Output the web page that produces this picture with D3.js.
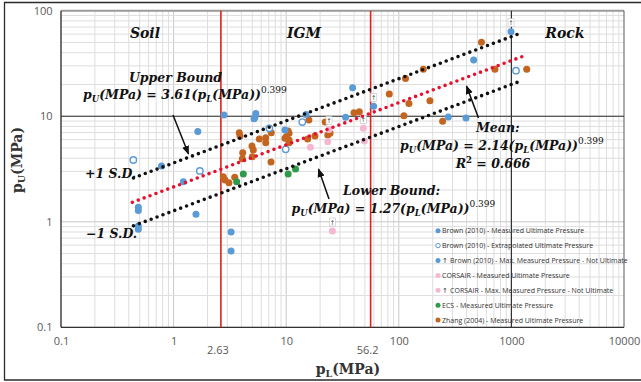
<!DOCTYPE html>
<html>
<head>
<meta charset="utf-8">
<script src="https://cdn.jsdelivr.net/npm/d3@7"></script>
<style>
  html, body { margin: 0; padding: 0; background: #fff; }
  svg { display: block; }
</style>
</head>
<body>
<svg id="chart" width="641" height="382"></svg>
<script>
// Limit pressure pL (MPa) vs ultimate pressure pU (MPa)
const brownMeasured = [
  [1.64, 7.17], [0.78, 3.38], [1.22, 2.40], [0.486, 1.37], [0.486, 1.28],
  [0.486, 0.912], [0.486, 0.848], [1.58, 1.18], [3.24, 0.80], [3.24, 0.528],
  [2.80, 10.3], [5.37, 10.6], [5.27, 9.77], [5.18, 9.48], [15.0, 10.4],
  [33.7, 9.77], [38.9, 18.6], [275, 9.84], [395, 9.62], [462, 34.1], [9.75, 7.41]
];
const brownExtrapolated = [
  [0.439, 3.85], [1.71, 3.03], [13.9, 8.81], [9.90, 4.86], [7.08, 7.68], [1099, 27.0]
];
const brownMaxMeasured = [[59.8, 12.4], [992, 63.2]];
const corsairMeasured = [[16.4, 5.08], [23.4, 5.74], [48.4, 9.21], [49.4, 5.83]];
const corsairMaxMeasured = [[48.4, 7.68], [25.7, 0.817], [24.0, 7.49]];
const ecsMeasured = [[3.63, 2.40], [4.16, 2.84], [10.4, 2.83], [12.1, 3.16]];
const zhangMeasured = [
  [2.76, 2.67], [2.86, 2.49], [3.10, 2.34], [3.49, 2.64], [3.83, 6.98], [3.89, 6.50],
  [4.11, 4.51], [4.08, 3.96], [4.97, 5.22], [5.10, 4.79], [5.00, 4.14], [5.77, 6.08],
  [6.58, 6.26], [6.58, 5.62], [7.37, 6.98], [7.33, 3.68], [10.4, 7.24], [10.6, 6.89],
  [10.0, 6.40], [10.6, 5.95], [10.6, 5.62], [9.75, 6.18], [15.5, 6.08], [15.9, 9.21],
  [18.0, 6.50], [22.2, 8.81], [23.4, 6.64], [24.5, 6.89], [40.0, 10.8], [44.6, 11.0],
  [82.3, 16.2], [114.7, 22.8], [165, 27.8], [123, 13.2], [189, 14.0], [111, 10.1],
  [245, 8.95], [542, 50.2], [714, 27.8], [1368, 27.8]
];

// Power-law fits pU = a * pL^b
const fitExponent = 0.399;
const fitMean = 2.14, fitUpper = 3.61, fitLower = 1.27;
const fitRange = [0.44, 1240];
const meanRange = [0.43, 1370];

// Boundaries between soil, IGM and rock
const boundaries = [2.63, 56.2];
const xTicks = [0.1, 1, 10, 100, 1000, 10000];
const yTicks = [0.1, 1, 10, 100];
const zoneLabels = [["Soil", 0.557], ["IGM", 14.4], ["Rock", 2990]];

const legendItems = [
  ["filled", "#5B9BD5", "", "Brown (2010) - Measured Ultimate Pressure"],
  ["open", "#5B9BD5", "", "Brown (2010) - Extrapolated Ultimate Pressure"],
  ["filled", "#5B9BD5", "\u2191 ", "Brown (2010) - Max. Measured Pressure - Not Ultimate"],
  ["filled", "#F4B8D3", "", "CORSAIR - Measured Ultimate Pressure"],
  ["filled", "#F4B8D3", "\u2191 ", "CORSAIR - Max. Measured Pressure - Not Ultimate"],
  ["filled", "#2E9A4A", "", "ECS - Measured Ultimate Pressure"],
  ["filled", "#C4651F", "", "Zhang (2004) - Measured Ultimate Pressure"]
];

const svg = d3.select("#chart");
const W = 641, H = 382;
const plot = { left: 61, right: 624, top: 10.7, bottom: 327.3 };

const x = d3.scaleLog().domain([0.1, 10000]).range([plot.left, plot.right]);
const y = d3.scaleLog().domain([0.1, 100]).range([plot.bottom, plot.top]);

svg.append("rect").attr("width", W).attr("height", H).attr("fill", "#fff");

// Outer frame
svg.append("path")
  .attr("d", `M660,2.5 H4.5 V380 H660`)
  .attr("fill", "none").attr("stroke", "#2b2b2b").attr("stroke-width", 1.3);

// Gridlines
const minorVals = (lo, hi) => {
  const out = [];
  for (let d = lo; d < hi * 0.999; d *= 10)
    for (let k = 1; k <= 9; k++) out.push({ v: k * d, major: k === 1 });
  return out;
};
const grid = svg.append("g");
minorVals(0.1, 10000).forEach(t => {
  grid.append("line")
    .attr("x1", x(t.v)).attr("x2", x(t.v))
    .attr("y1", plot.top).attr("y2", plot.bottom)
    .attr("stroke", t.major ? "#c8c8c8" : "#dedede").attr("stroke-width", 1);
});
minorVals(0.1, 100).forEach(t => {
  grid.append("line")
    .attr("x1", plot.left).attr("x2", plot.right)
    .attr("y1", y(t.v)).attr("y2", y(t.v))
    .attr("stroke", t.major ? "#c8c8c8" : "#dedede").attr("stroke-width", 1);
});

// Plot frame
svg.append("line").attr("x1", plot.left).attr("x2", plot.right)
  .attr("y1", plot.top).attr("y2", plot.top)
  .attr("stroke", "#9a9a9a").attr("stroke-width", 2);
svg.append("line").attr("x1", plot.right).attr("x2", plot.right)
  .attr("y1", plot.top).attr("y2", plot.bottom)
  .attr("stroke", "#595959").attr("stroke-width", 1);

// Reference lines at pU = 10 and pL = 1000
svg.append("line").attr("x1", plot.left).attr("x2", plot.right)
  .attr("y1", y(10)).attr("y2", y(10))
  .attr("stroke", "#333").attr("stroke-width", 1.2);
svg.append("line").attr("x1", x(1000)).attr("x2", x(1000))
  .attr("y1", plot.top).attr("y2", plot.bottom)
  .attr("stroke", "#333").attr("stroke-width", 1.2);

// Axes
const xAxis = svg.append("g").attr("transform", `translate(0,${plot.bottom})`)
  .call(d3.axisBottom(x).tickValues(xTicks).tickSize(0).tickFormat(d3.format("~g")));
const yAxis = svg.append("g").attr("transform", `translate(${plot.left},0)`)
  .call(d3.axisLeft(y).tickValues(yTicks).tickSize(0).tickFormat(d3.format("~g")));
[xAxis, yAxis].forEach(a => {
  a.select(".domain").attr("stroke", "#333").attr("stroke-width", 1.3);
  a.selectAll("text").attr("font-family", "'Open Sans', sans-serif")
    .attr("font-size", 11).attr("fill", "#595959");
});
xAxis.selectAll("text").attr("dy", "1.35em");
yAxis.selectAll("text").attr("dx", "-0.5em");
xAxis.select(".domain").attr("d", `M${plot.left},0H${plot.right}`);
yAxis.select(".domain").attr("d", `M0,${plot.bottom}V${plot.top}`);

// Boundary lines and their labels
boundaries.forEach(b => {
  svg.append("line").attr("x1", x(b)).attr("x2", x(b))
    .attr("y1", plot.top).attr("y2", plot.bottom)
    .attr("stroke", "#E0201B").attr("stroke-width", 1.6);
  svg.append("text").attr("x", x(b) - 3).attr("y", plot.bottom + 27)
    .attr("text-anchor", "middle")
    .attr("font-family", "'Open Sans', sans-serif").attr("font-size", 11)
    .attr("fill", "#595959").text(b);
});

// Data points
const pts = svg.append("g");
function drawPoints(data, color, open) {
  pts.selectAll(null).data(data).enter().append("circle")
    .attr("cx", d => x(d[0])).attr("cy", d => y(d[1]))
    .attr("r", open ? 3.2 : 3.5)
    .attr("fill", open ? "#fff" : color)
    .attr("stroke", color).attr("stroke-width", open ? 1.4 : 0);
}
function drawMaxFlags(data) {
  const g = pts.selectAll(null).data(data).enter().append("g")
    .attr("transform", d => `translate(${x(d[0])},${y(d[1]) - 9})`);
  g.append("rect").attr("x", -3).attr("y", -4).attr("width", 6).attr("height", 8)
    .attr("fill", "#fff").attr("stroke", "#c4c4c4").attr("stroke-width", 0.6);
  g.append("text").attr("text-anchor", "middle").attr("y", 2.6)
    .attr("font-family", "'DejaVu Sans', sans-serif").attr("font-size", 6.5)
    .attr("fill", "#555").text("\u2191");
}
drawPoints(zhangMeasured, "#C4651F", false);
drawPoints(brownMeasured, "#5B9BD5", false);
drawPoints(brownExtrapolated, "#5B9BD5", true);
drawPoints(ecsMeasured, "#2E9A4A", false);
drawPoints(corsairMeasured, "#F4B8D3", false);
drawPoints(brownMaxMeasured, "#5B9BD5", false);
drawPoints(corsairMaxMeasured, "#F4B8D3", false);
drawMaxFlags(brownMaxMeasured.concat(corsairMaxMeasured));

// Fitted power-law lines
function fitLine(a, range, color) {
  const line = d3.line().x(d => x(d)).y(d => y(a * Math.pow(d, fitExponent)));
  svg.append("path").datum(range).attr("d", line)
    .attr("fill", "none").attr("stroke", color).attr("stroke-width", 3.6)
    .attr("stroke-linecap", "round").attr("stroke-dasharray", "0,6.3");
}
fitLine(fitUpper, fitRange, "#111");
fitLine(fitLower, fitRange, "#111");
fitLine(fitMean, meanRange, "#E8112D");

// Annotations
const serif = "'DejaVu Serif', serif";
function eqText(xp, yp, coef, anchor) {
  const t = svg.append("text").attr("x", xp).attr("y", yp)
    .attr("font-family", serif).attr("font-size", 12.5)
    .attr("font-style", "italic").attr("font-weight", "bold").attr("fill", "#111")
    .attr("text-anchor", anchor || "start");
  t.append("tspan").text("p");
  t.append("tspan").attr("font-size", 8.5).attr("dy", 3).text("U");
  t.append("tspan").attr("dy", -3).text("(MPa) = " + coef + "(p");
  t.append("tspan").attr("font-size", 8.5).attr("dy", 3).text("L");
  t.append("tspan").attr("dy", -3).text("(MPa))");
  t.append("tspan").attr("font-size", 9).attr("font-weight", "normal").attr("font-style", "normal")
    .attr("dy", -6).text(fitExponent);
  return t;
}
function label(xp, yp, s, anchor) {
  return svg.append("text").attr("x", xp).attr("y", yp)
    .attr("font-family", serif).attr("font-size", 12.5)
    .attr("font-style", "italic").attr("font-weight", "bold").attr("fill", "#111")
    .attr("text-anchor", anchor || "start").text(s);
}

zoneLabels.forEach(([s, v]) => label(x(v), 38, s, "middle").attr("font-size", 14));

label(175.5, 82, "Upper Bound", "middle");
eqText(83, 99, fitUpper);
label(85, 178, "+1 S.D.");
label(86, 238, "\u22121 S.D.");
label(343, 194.5, "Lower Bound:");
eqText(291.5, 212.5, fitLower);
label(476, 132, "Mean:");
eqText(400, 150, fitMean);
const r2 = label(493, 168, "", "middle");
r2.append("tspan").text("R");
r2.append("tspan").attr("font-size", 8.5).attr("dy", -5).attr("font-style", "normal").text("2");
r2.append("tspan").attr("dy", 5).text(" = 0.666");

// Leader arrows
svg.append("defs").append("marker").attr("id", "ah")
  .attr("viewBox", "0 0 10 10").attr("refX", 9).attr("refY", 5)
  .attr("markerWidth", 6).attr("markerHeight", 6).attr("orient", "auto")
  .append("path").attr("d", "M0,1 L10,5 L0,9 z").attr("fill", "#111");
[[173, 115, 188.5, 154], [329, 199, 318.5, 169], [478.5, 118, 466.5, 86]].forEach(([x1, y1, x2, y2]) => {
  svg.append("line").attr("x1", x1).attr("y1", y1).attr("x2", x2).attr("y2", y2)
    .attr("stroke", "#111").attr("stroke-width", 1.5).attr("marker-end", "url(#ah)");
});

// Axis titles
const yt = svg.append("text").attr("transform", "translate(22,160) rotate(-90)")
  .attr("text-anchor", "middle").attr("font-family", serif)
  .attr("font-weight", "bold").attr("font-size", 14).attr("fill", "#333");
yt.append("tspan").text("p");
yt.append("tspan").attr("font-size", 9.5).attr("dy", 3).text("U");
yt.append("tspan").attr("dy", -3).text("(MPa)");
const xt = svg.append("text").attr("x", 348).attr("y", 374)
  .attr("text-anchor", "middle").attr("font-family", serif)
  .attr("font-weight", "bold").attr("font-size", 14).attr("fill", "#333");
xt.append("tspan").text("p");
xt.append("tspan").attr("font-size", 9.5).attr("dy", 3).text("L");
xt.append("tspan").attr("dy", -3).text("(MPa)");

// Legend
const lg = svg.append("g").attr("transform", "translate(438,230.7)");
legendItems.forEach(([kind, color, arrow, text], i) => {
  const row = lg.append("g").attr("transform", `translate(0,${i * 14.9})`);
  row.append("circle").attr("r", kind === "open" ? 2.2 : 2.5)
    .attr("fill", kind === "open" ? "#fff" : color)
    .attr("stroke", color).attr("stroke-width", kind === "open" ? 1 : 0);
  const t = row.append("text").attr("x", 4).attr("y", 2.4)
    .attr("font-family", "'Open Sans', sans-serif").attr("font-size", 7)
    .attr("fill", "#333");
  if (arrow) t.append("tspan").attr("font-family", "'DejaVu Sans', sans-serif").text(arrow);
  t.append("tspan").text(text);
});
</script>
</body>
</html>
